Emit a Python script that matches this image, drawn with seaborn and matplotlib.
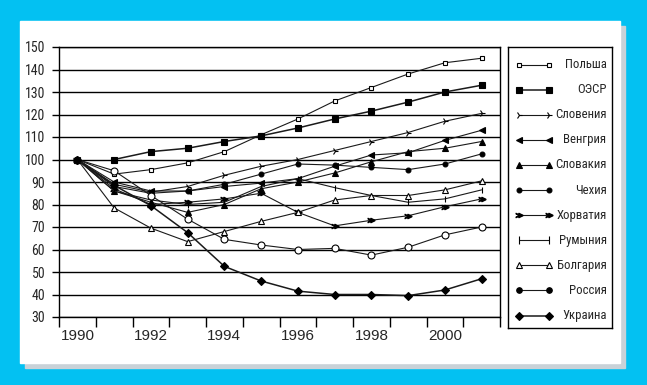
import numpy as np
import pandas as pd
import matplotlib
matplotlib.use("Agg")
from matplotlib import pyplot as plt
from matplotlib import font_manager
from matplotlib.patches import Rectangle
import seaborn as sns

# Data (index, 1990 = 100)
years = list(range(1990, 2002))
poland = [100, 93.5, 95.5, 98.5, 103.5, 111, 118, 126, 132, 138, 143, 145]
oecd = [np.nan, 100, 103.5, 105, 108, 110.5, 114, 118, 121.5, 125.5, 130, 133]
slovenia = [100, 89, 85.5, 88, 93, 97, 100, 104, 108, 112, 117, 120.5]
hungary = [100, 90, 86, 86, 88, 89.5, 91.5, 97, 102, 103, 108.5, 113]
slovakia = [100, 86, 81, 76.5, 80, 87, 90, 94, 99, 103.5, 105, 108]
czech = [100, 88, 85, 86, 89, 93.5, 98, 97.5, 96.5, 95.5, 98, 102.5]
croatia = [100, 87, 80, 81, 82.5, 85, 76.5, 70.5, 73, 75, 79, 82.5]
romania = [100, 86, 82, 80, 81, 88, 91.5, 87.5, 84, 81, 82.5, 86.5]
bulgaria = [100, 78.5, 69.5, 63.5, 68, 72.5, 76.5, 82, 84, 84, 86.5, 90.5]
russia = [100, 95, 84, 73.5, 64.5, 62, 60, 60.5, 57.5, 61, 66.5, 70]
ukraine = [100, 88.5, 79.5, 67.5, 52.5, 46, 41.5, 40, 40, 39.5, 42, 47]

names = ["Польша", "ОЭСР", "Словения", "Венгрия", "Словакия", "Чехия",
         "Хорватия", "Румыния", "Болгария", "Россия", "Украина"]
series = [poland, oecd, slovenia, hungary, slovakia, czech,
          croatia, romania, bulgaria, russia, ukraine]

# marker styles: (chart marker, size, face, legend marker, legend size, legend face, lw)
styles = {
    "Польша": ("s", 3.5, "white", "s", 3.5, "white", 0.8),
    "ОЭСР": ("s", 4.5, "black", "s", 4.5, "black", 1.1),
    "Словения": ("4", 5, "black", "4", 5, "black", 0.8),
    "Венгрия": ("<", 4.5, "black", "<", 5, "black", 0.8),
    "Словакия": ("^", 4.5, "black", "^", 5, "black", 0.8),
    "Чехия": ("o", 3.5, "black", "o", 3.5, "black", 0.8),
    "Хорватия": ("$\\gg$", 5, "black", "$\\gg$", 5, "black", 0.8),
    "Румыния": ("|", 5, "black", "|", 6, "black", 0.8),
    "Болгария": ("^", 4, "white", "^", 4, "white", 0.8),
    "Россия": ("o", 5, "white", "o", 4, "black", 0.8),
    "Украина": ("D", 4, "black", "D", 4.5, "black", 1.1),
}

df = pd.DataFrame({"year": years})
for n, s in zip(names, series):
    df[n] = s
long = df.melt(id_vars="year", var_name="country", value_name="value")

sns.set_style("white")
plt.rcParams["font.family"] = ["Liberation Sans", "DejaVu Sans"]

# pick a narrow face if one is installed
installed = {f.name for f in font_manager.fontManager.ttflist}
narrow_fam = None
for cand in ["Liberation Sans Narrow", "Arial Narrow", "Roboto Condensed",
             "DejaVu Sans Condensed", "Open Sans Condensed", "Noto Sans Condensed"]:
    if cand in installed:
        narrow_fam = cand
        break
if narrow_fam is None:
    for f in font_manager.fontManager.ttflist:
        if ("Narrow" in f.name or "Condensed" in f.name) and "Mono" not in f.name:
            narrow_fam = f.name
            break
if narrow_fam is not None:
    narrow = dict(family=[narrow_fam, "DejaVu Sans"], size=10, leg=9.2)
else:
    narrow = dict(family=["Liberation Sans", "DejaVu Sans"], size=8.5, leg=8)

W, H = 647, 385
fig = plt.figure(figsize=(W / 100, H / 100), dpi=100)
fig.set_facecolor("#03C1F2")

# white panel with a grey shadow, kept behind the axes
fig.patches.append(Rectangle((25 / W, 1 - 368 / H), 600 / W, 342 / H,
                             transform=fig.transFigure, color="#C9D2D8", zorder=-11))
fig.patches.append(Rectangle((20 / W, 1 - 363 / H), 600 / W, 342 / H,
                             transform=fig.transFigure, color="white", zorder=-10))

ax = fig.add_axes([59 / W, 1 - 317 / H, 441 / W, 270 / H])
ax.set_facecolor("white")
ink = "#1a1a1a"
for n in names:
    m, ms, fc, _, _, _, lw = styles[n]
    d = long[long["country"] == n].dropna()
    sns.lineplot(data=d, x="year", y="value", ax=ax, color=ink, lw=lw,
                 marker=m, markersize=ms, markerfacecolor=fc,
                 markeredgecolor="black", markeredgewidth=0.8, legend=False)

ax.set_xlim(1989.5, 2001.5)
ax.set_ylim(30, 150)
ax.set_yticks(range(30, 151, 10))
ax.set_xticks(range(1990, 2001, 2))
ax.set_xticks(np.arange(1989.5, 2002, 1), minor=True)
ax.set_xlabel("")
ax.set_ylabel("")
ax.yaxis.grid(True, color="black", lw=1)
ax.xaxis.grid(False)
ax.set_axisbelow(True)
for sp in ax.spines.values():
    sp.set_visible(True)
    sp.set_color("black")
    sp.set_linewidth(1)
ax.tick_params(axis="x", which="major", length=0, pad=9, labelsize=11)
ax.tick_params(axis="x", which="minor", length=7, width=1, color="black",
               direction="out", bottom=True)
ax.tick_params(axis="y", length=5, width=1, color="black", direction="out",
               left=True, pad=5)
for lab in ax.get_yticklabels():
    lab.set_family(narrow["family"])
    lab.set_fontsize(narrow["size"])

# legend box on the right
lax = fig.add_axes([508 / W, 1 - 328 / H, 103.5 / W, 281 / H])
lax.set_xlim(0, 103.5)
lax.set_ylim(281, 0)
lax.set_xticks([])
lax.set_yticks([])
for sp in lax.spines.values():
    sp.set_visible(True)
    sp.set_color("black")
    sp.set_linewidth(1)
for i, n in enumerate(names):
    _, _, _, m, ms, fc, lw = styles[n]
    y = 17.5 + 25.1 * i
    lax.plot([11, 41], [y, y], color=ink, lw=lw, marker=m, markersize=ms,
             markerfacecolor=fc, markeredgecolor="black", markeredgewidth=0.8)
    lax.text(98.5, y, n, ha="right", va="center", fontsize=narrow["leg"],
             family=narrow["family"])

fig.savefig("out.png", dpi=100, facecolor=fig.get_facecolor())
